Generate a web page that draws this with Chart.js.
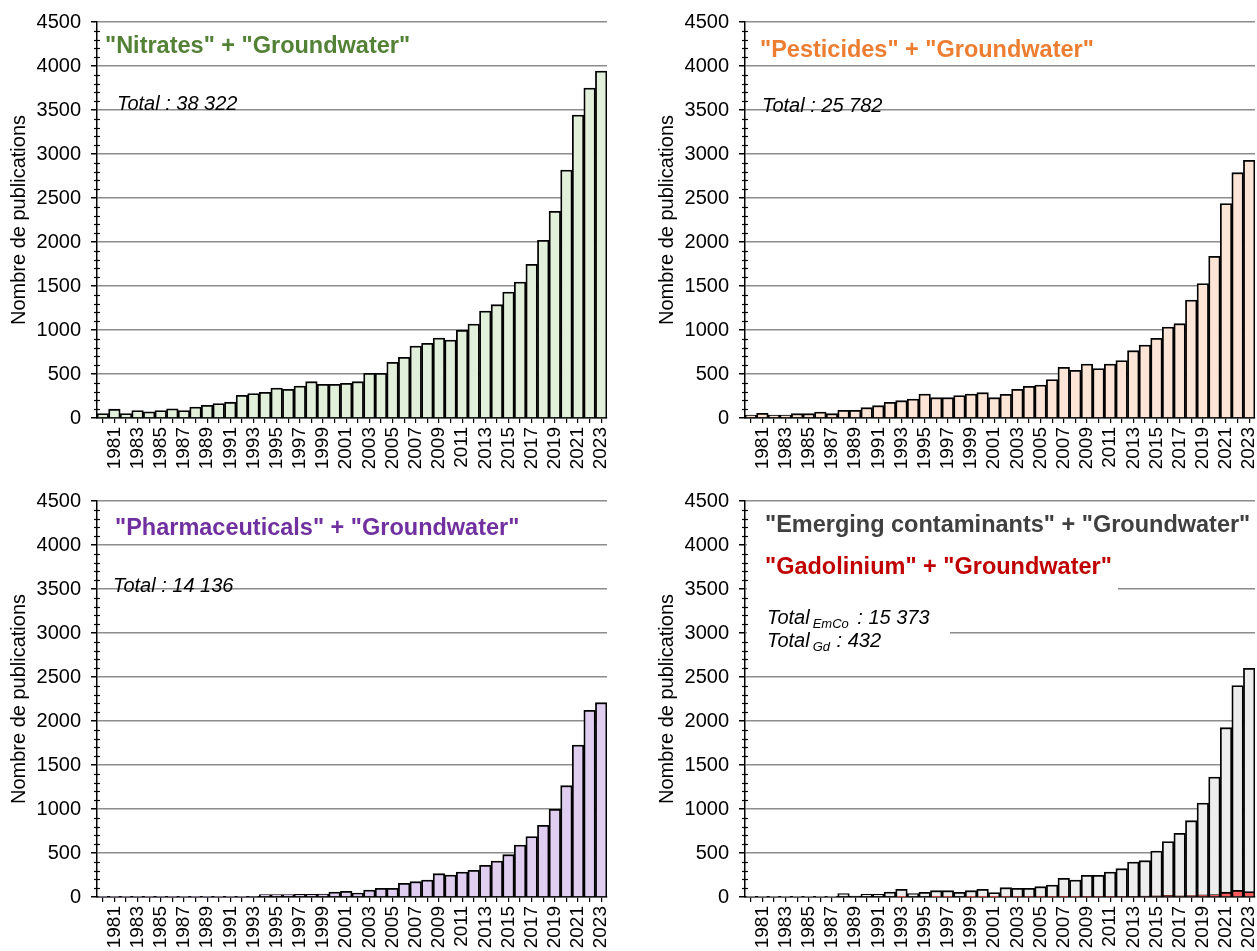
<!DOCTYPE html>
<html>
<head>
<meta charset="utf-8">
<script src="https://cdn.jsdelivr.net/npm/chart.js@4.4.1/dist/chart.umd.min.js"></script>
<style>
  html, body { margin: 0; padding: 0; background: #fff; overflow: hidden; }
  body { width: 1257px; height: 951px; position: relative; }
  .panel { position: absolute; width: 615px; height: 480px; }
</style>
</head>
<body>
<div class="panel" style="left:0;top:0"><canvas id="c1" width="615" height="480"></canvas></div>
<div class="panel" style="left:648px;top:0"><canvas id="c2" width="615" height="480"></canvas></div>
<div class="panel" style="left:0;top:479px"><canvas id="c3" width="615" height="480"></canvas></div>
<div class="panel" style="left:648px;top:479px"><canvas id="c4" width="615" height="480"></canvas></div>
<script>
var years = [];
for (var y = 1980; y <= 2023; y++) years.push(String(y));

var nitrates = [50, 100, 50, 85, 70, 85, 105, 85, 125, 145,
  165, 180, 258, 277, 292, 341, 326, 364, 413, 383,
  383, 395, 413, 508, 508, 633, 689, 818, 848, 909,
  886, 996, 1068, 1216, 1288, 1432, 1545, 1746, 2019, 2348,
  2818, 3443, 3750, 3943];

var pesticides = [34, 53, 34, 34, 49, 49, 68, 49, 87, 87,
  117, 140, 178, 197, 216, 273, 231, 231, 254, 273,
  288, 231, 269, 326, 360, 375, 436, 576, 542, 614,
  561, 614, 652, 765, 830, 905, 1034, 1072, 1341, 1527,
  1837, 2436, 2788, 2928];

var pharma = [2, 2, 2, 3, 3, 3, 3, 3, 4, 4,
  4, 5, 5, 6, 27, 27, 27, 30, 30, 34,
  57, 65, 45, 80, 98, 98, 155, 174, 193, 265,
  250, 284, 303, 360, 409, 481, 591, 686, 814, 996,
  1265, 1727, 2121, 2208];

var emco = [3, 3, 4, 4, 5, 5, 5, 5, 38, 11,
  30, 30, 57, 87, 38, 53, 72, 72, 53, 72,
  87, 50, 106, 98, 98, 117, 136, 212, 193, 246,
  246, 284, 322, 398, 413, 523, 629, 723, 867, 1068,
  1364, 1924, 2402, 2598];

var gadolinium = [0, 0, 0, 0, 0, 0, 0, 0, 0, 0,
  0, 0, 0, 1, 0, 0, 1, 1, 0, 1,
  1, 1, 2, 2, 2, 3, 3, 4, 5, 6,
  6, 7, 8, 9, 10, 12, 18, 14, 16, 26,
  28, 55, 75, 62];

var yTicks = [0, 500, 1000, 1500, 2000, 2500, 3000, 3500, 4000, 4500];

var FONT = "'Liberation Sans', Arial, sans-serif";

// minor ticks on the y axis, every 100
var minorTicks = {
  id: 'minorTicks',
  afterDraw: function (chart) {
    var ctx = chart.ctx, ys = chart.scales.y, x0 = chart.chartArea.left;
    ctx.save();
    ctx.strokeStyle = '#000';
    ctx.lineWidth = 1.2;
    for (var v = 0; v <= 4500; v += 100) {
      if (v % 500 === 0) continue;
      var py = Math.round(ys.getPixelForValue(v)) + 0.5;
      ctx.beginPath();
      ctx.moveTo(x0 - 3, py);
      ctx.lineTo(x0 + 3, py);
      ctx.stroke();
    }
    ctx.restore();
  }
};

// text written on the chart: titles and totals
var notes = {
  id: 'notes',
  beforeDatasetsDraw: function (chart, args, opts) {
    if (!opts.masks) return;
    var ctx = chart.ctx, a = chart.chartArea, ys = chart.scales.y;
    ctx.save();
    ctx.fillStyle = '#fff';
    opts.masks.forEach(function (m) {
      var top = ys.getPixelForValue(m[2]), bot = ys.getPixelForValue(m[3]);
      ctx.fillRect(a.left + 2, top, m[1], bot - top);
    });
    ctx.restore();
  },
  afterDraw: function (chart, args, opts) {
    var ctx = chart.ctx;
    ctx.save();
    ctx.textBaseline = 'alphabetic';
    ctx.textAlign = 'left';
    (opts.items || []).forEach(function (it) {
      var x = it.x;
      it.parts.forEach(function (p) {
        ctx.font = p.font;
        ctx.fillStyle = p.color || '#000';
        ctx.fillText(p.text, x, it.y + (p.dy || 0));
        x += ctx.measureText(p.text).width + (p.gap || 0);
      });
    });
    ctx.restore();
  }
};

function makeChart(id, datasets, items, masks) {
  return new Chart(document.getElementById(id), {
    type: 'bar',
    data: { labels: years, datasets: datasets },
    options: {
      responsive: false,
      animation: false,
      layout: { padding: { top: 22, right: 8, left: 0, bottom: 0 } },
      plugins: {
        legend: { display: false },
        tooltip: { enabled: false },
        notes: { items: items, masks: masks }
      },
      scales: {
        x: {
          stacked: true,
          offset: true,
          border: { color: '#000', width: 1.5 },
          grid: { display: true, drawOnChartArea: false, drawTicks: true, offset: false,
                  tickLength: 5, color: '#000', lineWidth: 1.2 },
          ticks: {
            autoSkip: false, minRotation: 90, maxRotation: 90, padding: 4,
            color: '#000', font: { family: FONT, size: 19 },
            callback: function (v, i) { return (i % 2 === 1) ? years[i] : ''; }
          },
          afterFit: function (s) { s.height = 62; s.paddingLeft = 0; s.paddingRight = 0; }
        },
        y: {
          stacked: false,
          min: 0, max: 4500,
          afterBuildTicks: function (s) { s.ticks = yTicks.map(function (v) { return { value: v }; }); },
          border: { color: '#000', width: 1.5 },
          grid: { color: '#8c8c8c', lineWidth: 1.5, drawTicks: true, tickLength: 6, tickColor: '#000' },
          ticks: { color: '#000', padding: 10, font: { family: FONT, size: 20 },
                   callback: function (v) { return String(v); } },
          title: { display: true, text: 'Nombre de publications', color: '#000',
                   font: { family: FONT, size: 20 }, padding: { top: 7, bottom: 0 } },
          afterFit: function (s) { s.width = 97; }
        }
      }
    },
    plugins: [minorTicks, notes]
  });
}

function bars(values, fill, order) {
  return { data: values, backgroundColor: fill, borderColor: '#000', borderWidth: 1.8,
           barPercentage: 1, categoryPercentage: 1, order: order || 0, borderSkipped: 'bottom' };
}

var TITLE = 'bold 23.5px ' + FONT;
var ITAL = 'italic 20px ' + FONT;
var SUB = 'italic 13px ' + FONT;

makeChart('c1', [bars(nitrates, '#E2EFDA')], [
  { x: 105, y: 53, parts: [{ text: '"Nitrates" + "Groundwater"', font: TITLE, color: '#538135' }] },
  { x: 117, y: 110, parts: [{ text: 'Total : 38 322', font: ITAL }] }
]);

makeChart('c2', [bars(pesticides, '#FCE4D6')], [
  { x: 112, y: 57, parts: [{ text: '"Pesticides" + "Groundwater"', font: TITLE, color: '#ED7D31' }] },
  { x: 114, y: 112, parts: [{ text: 'Total : 25 782', font: ITAL }] }
]);

makeChart('c3', [bars(pharma, '#E0CEF0')], [
  { x: 115, y: 56, parts: [{ text: '"Pharmaceuticals" + "Groundwater"', font: TITLE, color: '#7030A0' }] },
  { x: 113, y: 113, parts: [{ text: 'Total : 14 136', font: ITAL }] }
]);

makeChart('c4', [bars(gadolinium, '#FF5B5B', 0), bars(emco, '#EDEDED', 1)], [
  { x: 117, y: 53, parts: [{ text: '"Emerging contaminants" + "Groundwater"', font: TITLE, color: '#404040' }] },
  { x: 117, y: 95, parts: [{ text: '"Gadolinium" + "Groundwater"', font: TITLE, color: '#C00000' }] },
  { x: 119, y: 145, parts: [{ text: 'Total', font: ITAL, gap: 3 }, { text: 'EmCo', font: SUB, dy: 4, gap: 3 },
                            { text: ' : 15 373', font: ITAL }] },
  { x: 119, y: 168, parts: [{ text: 'Total', font: ITAL, gap: 3 }, { text: 'Gd', font: SUB, dy: 4, gap: 1 },
                            { text: ' : 432', font: ITAL }] }
], [
  [0, 508, 4420, 3700],
  [0, 371, 3700, 3200],
  [0, 203, 3200, 2800]
]);
</script>
</body>
</html>
